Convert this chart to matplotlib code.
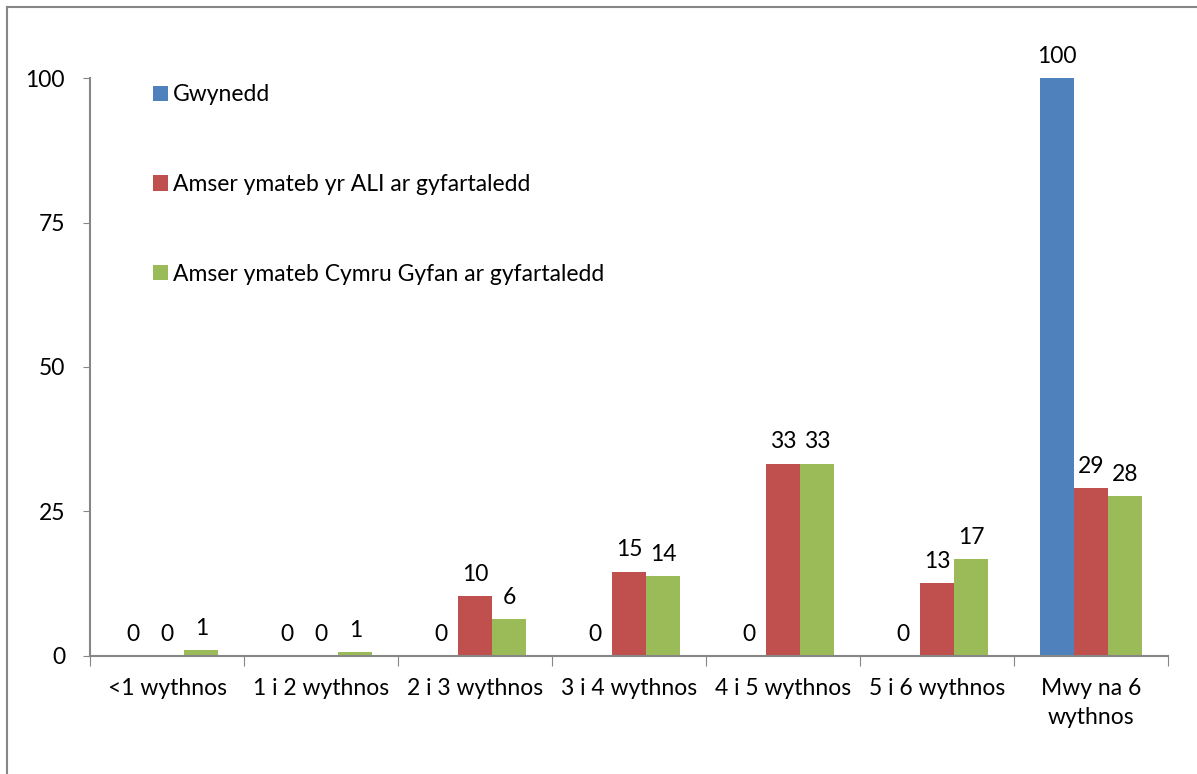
import matplotlib.pyplot as plt
import numpy as np
from matplotlib.lines import Line2D

plt.rcParams['font.family'] = ['Lato', 'DejaVu Sans']

categories = ['<1 wythnos', '1 i 2 wythnos', '2 i 3 wythnos', '3 i 4 wythnos',
              '4 i 5 wythnos', '5 i 6 wythnos', 'Mwy na 6\nwythnos']
gwynedd = [0, 0, 0, 0, 0, 0, 100]
ali_avg = [0, 0, 10.4, 14.6, 33.3, 12.6, 29.1]
cymru_avg = [1.0, 0.7, 6.4, 13.9, 33.3, 16.8, 27.6]
series_names = ['Gwynedd', 'Amser ymateb yr ALI ar gyfartaledd',
                'Amser ymateb Cymru Gyfan ar gyfartaledd']
colors = ['#4F81BD', '#C0504D', '#9BBB59']

fig = plt.figure(figsize=(11.97, 7.74), dpi=100)
ax = fig.add_axes([0.0752, 0.1525, 0.9006, 0.7467])

# outer chart frame (only top and left edges show in the picture)
grey = '#868686'
fig.add_artist(Line2D([7 / 1197, 1.0], [1 - 7 / 774, 1 - 7 / 774], color=grey, lw=1.5))
fig.add_artist(Line2D([7 / 1197, 7 / 1197], [0, 1 - 7 / 774], color=grey, lw=1.5))

x = np.arange(len(categories))
w = 1 / 4.5
fs = 16.5
for i, (vals, name, c) in enumerate(zip([gwynedd, ali_avg, cymru_avg], series_names, colors)):
    bars = ax.bar(x + (i - 1) * w, vals, w, color=c, label=name, zorder=2)
    for b, v in zip(bars, vals):
        ax.annotate('%.0f' % v, (b.get_x() + b.get_width() / 2, v),
                    xytext=(0, 8), textcoords='offset points',
                    ha='center', va='bottom', fontsize=fs, annotation_clip=False)

ax.set_ylim(0, 100)
ax.set_xlim(-0.5, len(categories) - 0.5)
ax.set_yticks([0, 25, 50, 75, 100])
ax.tick_params(axis='y', length=5, color=grey, pad=13, labelsize=fs)
ax.set_xticks(np.arange(len(categories) + 1) - 0.5)
ax.set_xticklabels([])
ax.tick_params(axis='x', which='major', length=7, color=grey)
ax.set_xticks(x, minor=True)
ax.set_xticklabels(categories, minor=True, fontsize=fs, linespacing=1.45)
ax.tick_params(axis='x', which='minor', length=0, pad=16)

for s in ['top', 'right']:
    ax.spines[s].set_visible(False)
for s in ['left', 'bottom']:
    ax.spines[s].set_color(grey)
    ax.spines[s].set_linewidth(1.5)

ax.legend(loc='upper left', bbox_to_anchor=(0.05, 1.005), frameon=False, fontsize=fs,
          handlelength=0.65, handleheight=0.65, handletextpad=0.2, labelspacing=3.0,
          borderaxespad=0)

fig.savefig('out.png', dpi=100)
